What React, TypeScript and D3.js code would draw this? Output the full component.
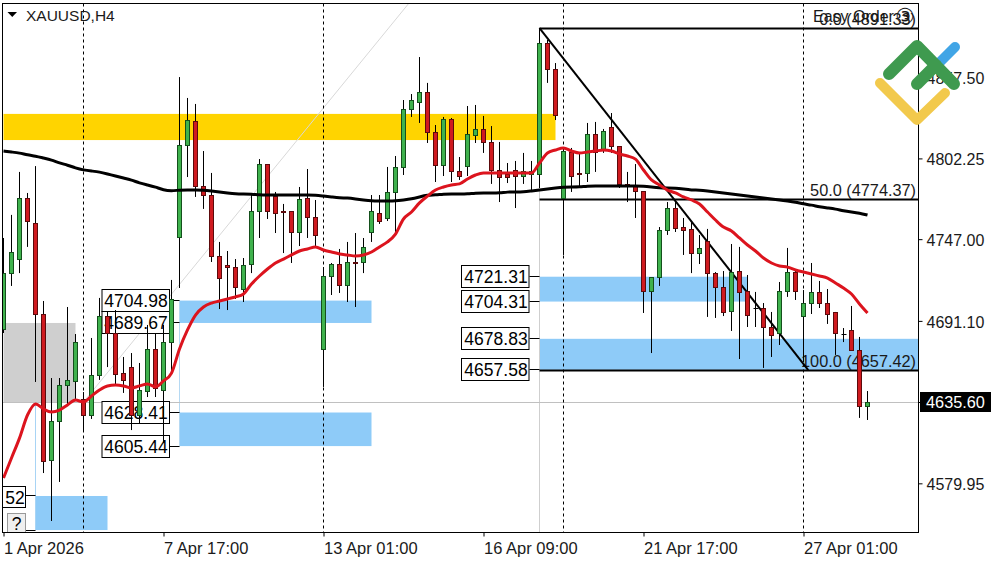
import { useEffect, useRef } from "react";
import * as d3 from "d3";

// H4 candles, one value per bar
const opens = [
  4684.9, 4723.8, 4733.4, 4774.5, 4757.4, 4695.8, 4595.9, 4622.6, 4647.2, 4649.3,
  4637.0, 4626.7, 4653.4, 4694.4, 4682.8, 4654.8, 4659.5, 4626.7, 4643.1, 4671.2,
  4643.8, 4676.0, 4747.8, 4810.8, 4827.2, 4782.7, 4777.2, 4734.8, 4729.3, 4727.9,
  4712.9, 4730.0, 4765.6, 4798.4, 4776.5, 4765.6, 4765.6, 4751.9, 4774.5, 4761.5,
  4671.2, 4721.8, 4730.0, 4715.0, 4730.7, 4730.7, 4751.9, 4764.9, 4760.8, 4778.6,
  4795.7, 4835.4, 4840.2, 4847.0, 4820.3, 4797.7, 4829.2, 4793.0, 4797.0, 4817.6,
  4821.7, 4812.8, 4794.3, 4790.9, 4794.3, 4790.2, 4790.9, 4790.9, 4881.2, 4863.4,
  4774.5, 4806.6, 4791.6, 4791.6, 4818.3, 4808.0, 4823.7, 4810.1, 4784.1, 4782.7,
  4779.3, 4711.5, 4721.1, 4752.6, 4768.3, 4755.3, 4753.3, 4737.5, 4745.1, 4723.8,
  4713.6, 4697.2, 4725.2, 4710.9, 4699.9, 4699.9, 4686.9, 4682.8, 4711.5, 4724.5,
  4693.8, 4703.3, 4710.2, 4703.3, 4696.5, 4682.1, 4684.2, 4670.5, 4632.2,
];
const highs = [
  4747.8, 4763.6, 4793.0, 4778.6, 4797.0, 4704.7, 4652.0, 4652.0, 4700.6, 4682.1,
  4642.4, 4679.4, 4706.8, 4697.2, 4698.5, 4666.4, 4669.1, 4662.3, 4688.3, 4682.8,
  4688.3, 4719.1, 4857.9, 4843.6, 4839.5, 4807.3, 4792.3, 4745.1, 4738.9, 4733.4,
  4734.1, 4777.2, 4801.8, 4798.4, 4779.3, 4771.1, 4765.8, 4782.7, 4795.0, 4773.8,
  4727.9, 4730.7, 4740.3, 4745.1, 4751.2, 4747.8, 4777.2, 4777.2, 4796.4, 4803.9,
  4842.2, 4846.3, 4871.6, 4853.9, 4825.1, 4830.6, 4829.9, 4803.2, 4838.1, 4838.8,
  4831.3, 4824.4, 4813.5, 4799.1, 4800.5, 4806.0, 4800.5, 4891.5, 4883.3, 4867.5,
  4809.4, 4809.4, 4806.0, 4826.5, 4827.2, 4822.4, 4833.3, 4810.1, 4793.0, 4798.4,
  4779.3, 4721.1, 4755.3, 4772.4, 4772.4, 4761.5, 4758.8, 4749.9, 4754.0, 4724.5,
  4725.2, 4743.7, 4741.7, 4722.5, 4710.9, 4703.3, 4697.2, 4717.7, 4741.0, 4726.6,
  4712.2, 4730.7, 4718.4, 4712.9, 4697.2, 4686.2, 4701.3, 4680.1, 4643.1,
];
const lows = [
  4682.8, 4715.0, 4723.8, 4741.7, 4649.3, 4587.0, 4554.2, 4580.9, 4633.6, 4637.0,
  4616.4, 4624.0, 4650.7, 4659.5, 4647.9, 4641.8, 4616.4, 4621.2, 4639.0, 4639.0,
  4607.5, 4655.4, 4713.6, 4789.5, 4775.9, 4767.7, 4731.4, 4699.2, 4698.5, 4706.1,
  4704.0, 4723.8, 4747.8, 4760.8, 4751.2, 4737.5, 4730.7, 4742.3, 4747.8, 4742.3,
  4645.9, 4708.8, 4710.2, 4704.0, 4700.6, 4723.8, 4745.1, 4757.4, 4759.4, 4751.9,
  4790.9, 4830.6, 4826.5, 4812.8, 4786.1, 4790.2, 4786.1, 4787.5, 4790.2, 4812.8,
  4806.0, 4784.8, 4772.4, 4785.4, 4768.3, 4784.8, 4780.6, 4782.0, 4853.9, 4828.5,
  4736.2, 4779.3, 4782.7, 4786.1, 4793.0, 4806.0, 4806.0, 4782.0, 4772.4, 4761.5,
  4696.5, 4669.1, 4715.0, 4749.9, 4751.9, 4736.2, 4723.8, 4730.0, 4693.8, 4693.1,
  4694.4, 4684.2, 4665.0, 4686.9, 4686.9, 4658.9, 4666.4, 4674.6, 4707.5, 4705.4,
  4662.9, 4695.8, 4699.9, 4689.0, 4667.8, 4676.6, 4670.5, 4624.7, 4623.3,
];
const closes = [
  4723.8, 4738.2, 4774.5, 4758.8, 4695.8, 4595.2, 4622.6, 4647.2, 4650.0, 4676.6,
  4626.7, 4653.4, 4694.4, 4682.8, 4654.1, 4650.0, 4626.7, 4643.8, 4671.2, 4644.5,
  4676.6, 4705.4, 4810.8, 4827.9, 4782.7, 4777.2, 4734.8, 4719.8, 4727.9, 4713.6,
  4729.3, 4765.6, 4798.4, 4765.6, 4764.9, 4765.4, 4751.9, 4773.8, 4761.5, 4749.2,
  4721.8, 4730.0, 4715.0, 4730.7, 4730.5, 4741.0, 4765.6, 4759.4, 4778.6, 4795.7,
  4835.4, 4842.2, 4847.0, 4820.3, 4797.7, 4829.2, 4793.0, 4790.2, 4818.3, 4821.7,
  4812.8, 4794.3, 4789.5, 4789.5, 4790.2, 4793.6, 4793.6, 4881.2, 4863.4, 4831.3,
  4807.3, 4790.2, 4791.4, 4818.3, 4806.6, 4821.0, 4810.1, 4784.1, 4782.7, 4779.3,
  4711.5, 4721.1, 4752.6, 4768.3, 4754.6, 4752.6, 4737.5, 4740.3, 4723.8, 4713.6,
  4696.5, 4724.5, 4710.2, 4695.1, 4699.7, 4686.9, 4681.4, 4710.9, 4724.5, 4710.9,
  4703.3, 4710.2, 4703.3, 4695.8, 4682.8, 4681.9, 4670.5, 4632.2, 4635.6,
];

// moving averages, same bars
const fastMa = [
  4583.6, 4597.3, 4610.9, 4626.7, 4634.3, 4630.8, 4628.8, 4630.1, 4633.6, 4637.0,
  4635.6, 4639.7, 4643.8, 4646.6, 4647.2, 4646.6, 4645.2, 4646.6, 4648.0, 4645.9,
  4650.0, 4655.4, 4671.9, 4684.9, 4695.1, 4700.6, 4703.3, 4704.7, 4706.1, 4707.5,
  4709.5, 4716.3, 4721.8, 4726.6, 4730.7, 4733.4, 4736.2, 4738.9, 4740.3, 4741.7,
  4739.6, 4738.2, 4736.9, 4736.2, 4735.5, 4736.2, 4738.2, 4741.7, 4745.1, 4750.5,
  4760.8, 4765.6, 4771.8, 4776.5, 4780.6, 4782.7, 4784.1, 4784.8, 4788.2, 4790.9,
  4792.3, 4792.3, 4792.3, 4792.3, 4792.3, 4792.3, 4792.3, 4799.1, 4806.0, 4808.0,
  4809.4, 4807.3, 4806.0, 4806.6, 4807.3, 4808.0, 4807.3, 4805.3, 4803.9, 4801.8,
  4794.3, 4787.5, 4784.1, 4780.6, 4778.6, 4775.9, 4773.8, 4771.1, 4765.6, 4760.1,
  4755.3, 4752.6, 4747.8, 4743.0, 4738.9, 4734.1, 4730.7, 4728.6, 4727.9, 4725.9,
  4724.5, 4723.2, 4721.8, 4720.4, 4717.0, 4713.6, 4709.5, 4702.7, 4696.5,
];
const slowMa = [
  4807.3, 4806.6, 4806.0, 4804.6, 4803.9, 4802.5, 4801.2, 4799.1, 4797.7, 4795.7,
  4794.3, 4793.6, 4793.0, 4791.6, 4790.2, 4788.8, 4787.5, 4785.4, 4784.1, 4782.7,
  4780.6, 4780.0, 4780.6, 4780.6, 4780.6, 4780.6, 4780.0, 4779.3, 4778.6, 4777.9,
  4777.9, 4777.9, 4777.2, 4777.2, 4777.2, 4777.2, 4777.2, 4777.2, 4777.2, 4777.2,
  4776.5, 4775.9, 4775.2, 4775.2, 4774.5, 4773.8, 4773.1, 4773.1, 4773.1, 4773.1,
  4773.8, 4774.5, 4775.9, 4777.2, 4777.2, 4777.9, 4777.9, 4777.9, 4777.9, 4778.6,
  4778.6, 4778.6, 4778.6, 4779.3, 4779.3, 4779.3, 4780.0, 4780.6, 4781.3, 4782.0,
  4782.7, 4782.7, 4782.7, 4783.4, 4783.4, 4783.4, 4783.4, 4783.4, 4783.4, 4783.4,
  4783.4, 4782.7, 4782.0, 4782.0, 4782.0, 4781.3, 4780.6, 4780.6, 4780.0, 4779.3,
  4778.6, 4777.9, 4777.2, 4776.5, 4775.9, 4775.2, 4774.5, 4773.8, 4773.1, 4772.4,
  4771.1, 4770.4, 4769.0, 4768.3, 4767.7, 4766.3, 4765.6, 4764.9, 4763.5,
];

const priceTicks = [4857.5, 4802.25, 4747.0, 4691.1, 4635.6, 4579.95];
const timeTickBars = [0, 20, 40, 60, 80, 100];
const timeTickLabels = ["1 Apr 2026", "7 Apr 17:00", "13 Apr 01:00", "16 Apr 09:00", "21 Apr 17:00", "27 Apr 01:00"];
const sessionBars = [10, 40, 70, 100];

const lastPrice = 4635.6;

// supply / demand zones: [first bar, last bar, upper price, lower price]
const blueZones = [
  [4, 13, 4571.3, 4548.0],
  [22, 46, 4704.98, 4689.67],
  [22, 46, 4628.41, 4605.44],
  [67, 93, 4721.31, 4704.31],
  [67, 125, 4678.83, 4657.58],
];
const yellowZone = [0, 69, 4832.7, 4814.8];
const grayZone = [0, 9, 4689.67, 4635.6];

// boxed price labels: [bar they hang off, price]
const priceLabels = [
  [22, 4704.98],
  [22, 4689.67],
  [22, 4628.41],
  [22, 4605.44],
  [67, 4721.31],
  [67, 4704.31],
  [67, 4678.83],
  [67, 4657.58],
];

const fibStartBar = 67;
const fibEndBar = 100.6;
const fibLevels = [
  ["0.0", 4891.33],
  ["50.0", 4774.37],
  ["100.0", 4657.42],
];
const fibTop = 4891.33;
const fibBottom = 4657.42;
const guideLine = [10, 4635.6, 51, 4910.6];

const FONT = "'Liberation Sans', Arial, sans-serif";

export default function App() {
  const svgRef = useRef<SVGSVGElement>(null);

  useEffect(() => {
    if (!svgRef.current) return;
    const svg = d3.select(svgRef.current);
    svg.selectAll("*").remove();

    const left = 2.5;
    const right = 918.5;
    const top = 3.5;
    const bottom = 532.5;

    const x = d3.scaleLinear().domain([0, 100]).range([3.5, 803.5]);
    const y = d3.scaleLinear().domain([4635.6, 4891.33]).range([402, 28.2]);
    const crisp = (v: number) => Math.round(v - 0.5) + 0.5;

    svg.append("defs").append("clipPath").attr("id", "plot")
      .append("rect").attr("x", left).attr("y", top).attr("width", right - left).attr("height", bottom - top);

    const plot = svg.append("g").attr("clip-path", "url(#plot)");

    // zones
    const zoneRect = (z: number[], fill: string) =>
      plot.append("rect")
        .attr("x", x(z[0]))
        .attr("y", y(z[2]))
        .attr("width", x(z[1]) - x(z[0]))
        .attr("height", y(z[3]) - y(z[2]))
        .attr("fill", fill);

    zoneRect(yellowZone, "#ffd400");
    zoneRect(grayZone, "#cfcfcf");
    blueZones.forEach((z) => zoneRect(z, "#8ecbf8"));

    // thin vertical guides at the zone anchors
    plot.append("line").attr("x1", x(4) + 0).attr("x2", x(4)).attr("y1", y(lastPrice)).attr("y2", y(4548))
      .attr("stroke", "#a8d4f5");
    plot.append("line").attr("x1", x(22)).attr("x2", x(22)).attr("y1", y(4704.98)).attr("y2", y(4605.44))
      .attr("stroke", "#b5d9f3");
    plot.append("line").attr("x1", x(67)).attr("x2", x(67)).attr("y1", y(fibTop)).attr("y2", bottom)
      .attr("stroke", "#cfcfcf");

    plot.append("line")
      .attr("x1", x(guideLine[0])).attr("y1", y(guideLine[1]))
      .attr("x2", x(guideLine[2])).attr("y2", y(guideLine[3]))
      .attr("stroke", "#d8d8d8");

    // last price line
    plot.append("line").attr("x1", left).attr("x2", right)
      .attr("y1", crisp(y(lastPrice))).attr("y2", crisp(y(lastPrice)))
      .attr("stroke", "#c0c0c0");

    // session separators
    plot.selectAll(".session").data(sessionBars).enter().append("line")
      .attr("x1", (d) => x(d)).attr("x2", (d) => x(d))
      .attr("y1", top).attr("y2", bottom)
      .attr("stroke", "#000").attr("stroke-dasharray", "3,3");

    // boxed labels with leaders
    const labels = plot.selectAll(".plabel").data(priceLabels).enter().append("g");
    labels.append("line")
      .attr("x1", (d) => x(d[0]) - 10).attr("x2", (d) => x(d[0]))
      .attr("y1", (d) => crisp(y(d[1]))).attr("y2", (d) => crisp(y(d[1])))
      .attr("stroke", "#000");
    labels.append("rect")
      .attr("x", (d) => x(d[0]) - 77.5 + (d[0] === 22 ? 0 : -0.5))
      .attr("y", (d) => crisp(y(d[1])) - 11)
      .attr("width", 67.5).attr("height", 22)
      .attr("fill", "#fff").attr("stroke", "#000");
    labels.append("text")
      .attr("x", (d) => x(d[0]) - 43.5)
      .attr("y", (d) => crisp(y(d[1])) + 6)
      .attr("text-anchor", "middle")
      .attr("font-family", FONT).attr("font-size", 17.5).attr("fill", "#000")
      .text((d) => d[1].toFixed(2));

    // clipped label hanging off the first zone, and its question button
    plot.append("line").attr("x1", 26).attr("x2", x(4)).attr("y1", crisp(y(4571.3))).attr("y2", crisp(y(4571.3))).attr("stroke", "#000");
    plot.append("line").attr("x1", 25).attr("x2", x(4)).attr("y1", crisp(y(4548))).attr("y2", crisp(y(4548))).attr("stroke", "#000");
    plot.append("rect").attr("x", 2.5).attr("y", 486.5).attr("width", 23).attr("height", 21)
      .attr("fill", "#fff").attr("stroke", "#000");
    plot.append("text").attr("x", 15).attr("y", 503.5).attr("text-anchor", "middle")
      .attr("font-family", FONT).attr("font-size", 17.5).attr("fill", "#000").text("52");
    plot.append("rect").attr("x", 7.5).attr("y", 513.5).attr("width", 18).attr("height", 20)
      .attr("fill", "#efefef").attr("stroke", "#999");
    plot.append("text").attr("x", 16.5).attr("y", 529.5).attr("text-anchor", "middle")
      .attr("font-family", FONT).attr("font-size", 17.5).attr("fill", "#000").text("?");

    // fibonacci
    fibLevels.forEach(([name, price]) => {
      const lvl = price as number;
      plot.append("line").attr("x1", x(fibStartBar)).attr("x2", right)
        .attr("y1", crisp(y(lvl))).attr("y2", crisp(y(lvl)))
        .attr("stroke", "#000").attr("stroke-width", 2);
      plot.append("text").attr("x", 916).attr("y", crisp(y(lvl)) - 4)
        .attr("text-anchor", "end")
        .attr("font-family", FONT).attr("font-size", 16.3).attr("fill", "#1a1a1a")
        .text(`${name} (${lvl.toFixed(2)})`);
    });
    plot.append("line")
      .attr("x1", x(fibStartBar)).attr("y1", y(fibTop))
      .attr("x2", x(fibEndBar)).attr("y2", y(fibBottom))
      .attr("stroke", "#000").attr("stroke-width", 2);

    plot.append("text").attr("x", 813).attr("y", 22)
      .attr("font-family", FONT).attr("font-size", 16).attr("fill", "#1a1a1a").text("Easy Order");
    plot.append("text").attr("x", 895).attr("y", 24)
      .attr("font-family", "'DejaVu Sans'").attr("font-size", 22).attr("fill", "#1a1a1a").text("③");

    // candles
    const candles = plot.selectAll(".candle").data(opens).enter().append("g");
    candles.append("line")
      .attr("x1", (_, i) => x(i)).attr("x2", (_, i) => x(i))
      .attr("y1", (_, i) => y(highs[i])).attr("y2", (_, i) => y(lows[i]))
      .attr("stroke", "#000");
    candles.each(function (o, i) {
      const g = d3.select(this);
      const c = closes[i];
      const y0 = crisp(y(Math.max(o, c)));
      const y1 = crisp(y(Math.min(o, c)));
      if (y1 - y0 < 1) {
        g.append("line").attr("x1", x(i) - 2).attr("x2", x(i) + 3).attr("y1", y0).attr("y2", y0).attr("stroke", "#000");
        return;
      }
      g.append("rect")
        .attr("x", x(i) - 2).attr("width", 4)
        .attr("y", y0).attr("height", y1 - y0)
        .attr("fill", c >= o ? "#3fb24d" : "#cf1a1f")
        .attr("stroke", c >= o ? "#14501c" : "#5c0a0c");
    });

    // moving averages
    const slowLine = d3.line<number>().x((_, i) => x(i)).y((d) => y(d)).curve(d3.curveBasis);
    const fastLine = d3.line<number>().x((_, i) => x(i)).y((d) => y(d)).curve(d3.curveMonotoneX);
    plot.append("path").attr("d", slowLine(slowMa)).attr("fill", "none").attr("stroke", "#000").attr("stroke-width", 3);
    plot.append("path").attr("d", fastLine(fastMa)).attr("fill", "none").attr("stroke", "#dc141e").attr("stroke-width", 3);

    // title
    plot.append("path").attr("d", d3.line()([[7.5, 12], [17, 12], [12.25, 17]]) + "Z").attr("fill", "#000");
    plot.append("text").attr("x", 26).attr("y", 21)
      .attr("font-family", FONT).attr("font-size", 15.5).attr("fill", "#1a1a1a").text("XAUUSD,H4");

    // frame
    svg.append("rect").attr("x", left).attr("y", top).attr("width", right - left).attr("height", bottom - top)
      .attr("fill", "none").attr("stroke", "#000");

    // axes
    const yAxis = svg.append("g").attr("transform", `translate(${right},0)`)
      .call(d3.axisRight(y).tickValues(priceTicks).tickSize(4).tickFormat((d) => d3.format(".2f")(d as number)));
    const xAxis = svg.append("g").attr("transform", `translate(0,${bottom})`)
      .call(d3.axisBottom(x).tickValues(timeTickBars).tickSize(4).tickFormat((_, i) => timeTickLabels[i]));
    [yAxis, xAxis].forEach((a) => {
      a.select(".domain").remove();
      a.selectAll("line").attr("stroke", "#000");
      a.selectAll("text").attr("font-family", FONT).attr("fill", "#1a1a1a");
    });
    yAxis.selectAll("text").attr("x", 8).attr("y", 1).attr("font-size", 16);
    xAxis.selectAll("text").attr("text-anchor", "start").attr("x", 0).attr("y", 10).attr("font-size", 16.5);

    // current price tag
    svg.append("rect").attr("x", 920).attr("y", y(lastPrice) - 10).attr("width", 71).attr("height", 20).attr("fill", "#000");
    svg.append("text").attr("x", 955.5).attr("y", y(lastPrice) + 6).attr("text-anchor", "middle")
      .attr("font-family", FONT).attr("font-size", 16.3).attr("fill", "#fff").text(lastPrice.toFixed(2));

    // logo sits on top of everything
    const logo = svg.append("g").attr("fill", "none").attr("stroke-linecap", "round").attr("stroke-linejoin", "round");
    logo.append("path").attr("d", "M938 64L955 47").attr("stroke", "#41a5e6").attr("stroke-width", 10);
    logo.append("path").attr("d", "M880 83L917 120L945 93").attr("stroke", "#f2c94c").attr("stroke-width", 10);
    logo.append("path").attr("d", "M889 74L917 46L954 84M917 84L936 65").attr("stroke", "#3f9a4f").attr("stroke-width", 12);
  }, []);

  return (
    <svg
      ref={svgRef}
      width={1000}
      height={562}
      style={{ position: "absolute", left: 0, top: 0, background: "#fff" }}
    />
  );
}
